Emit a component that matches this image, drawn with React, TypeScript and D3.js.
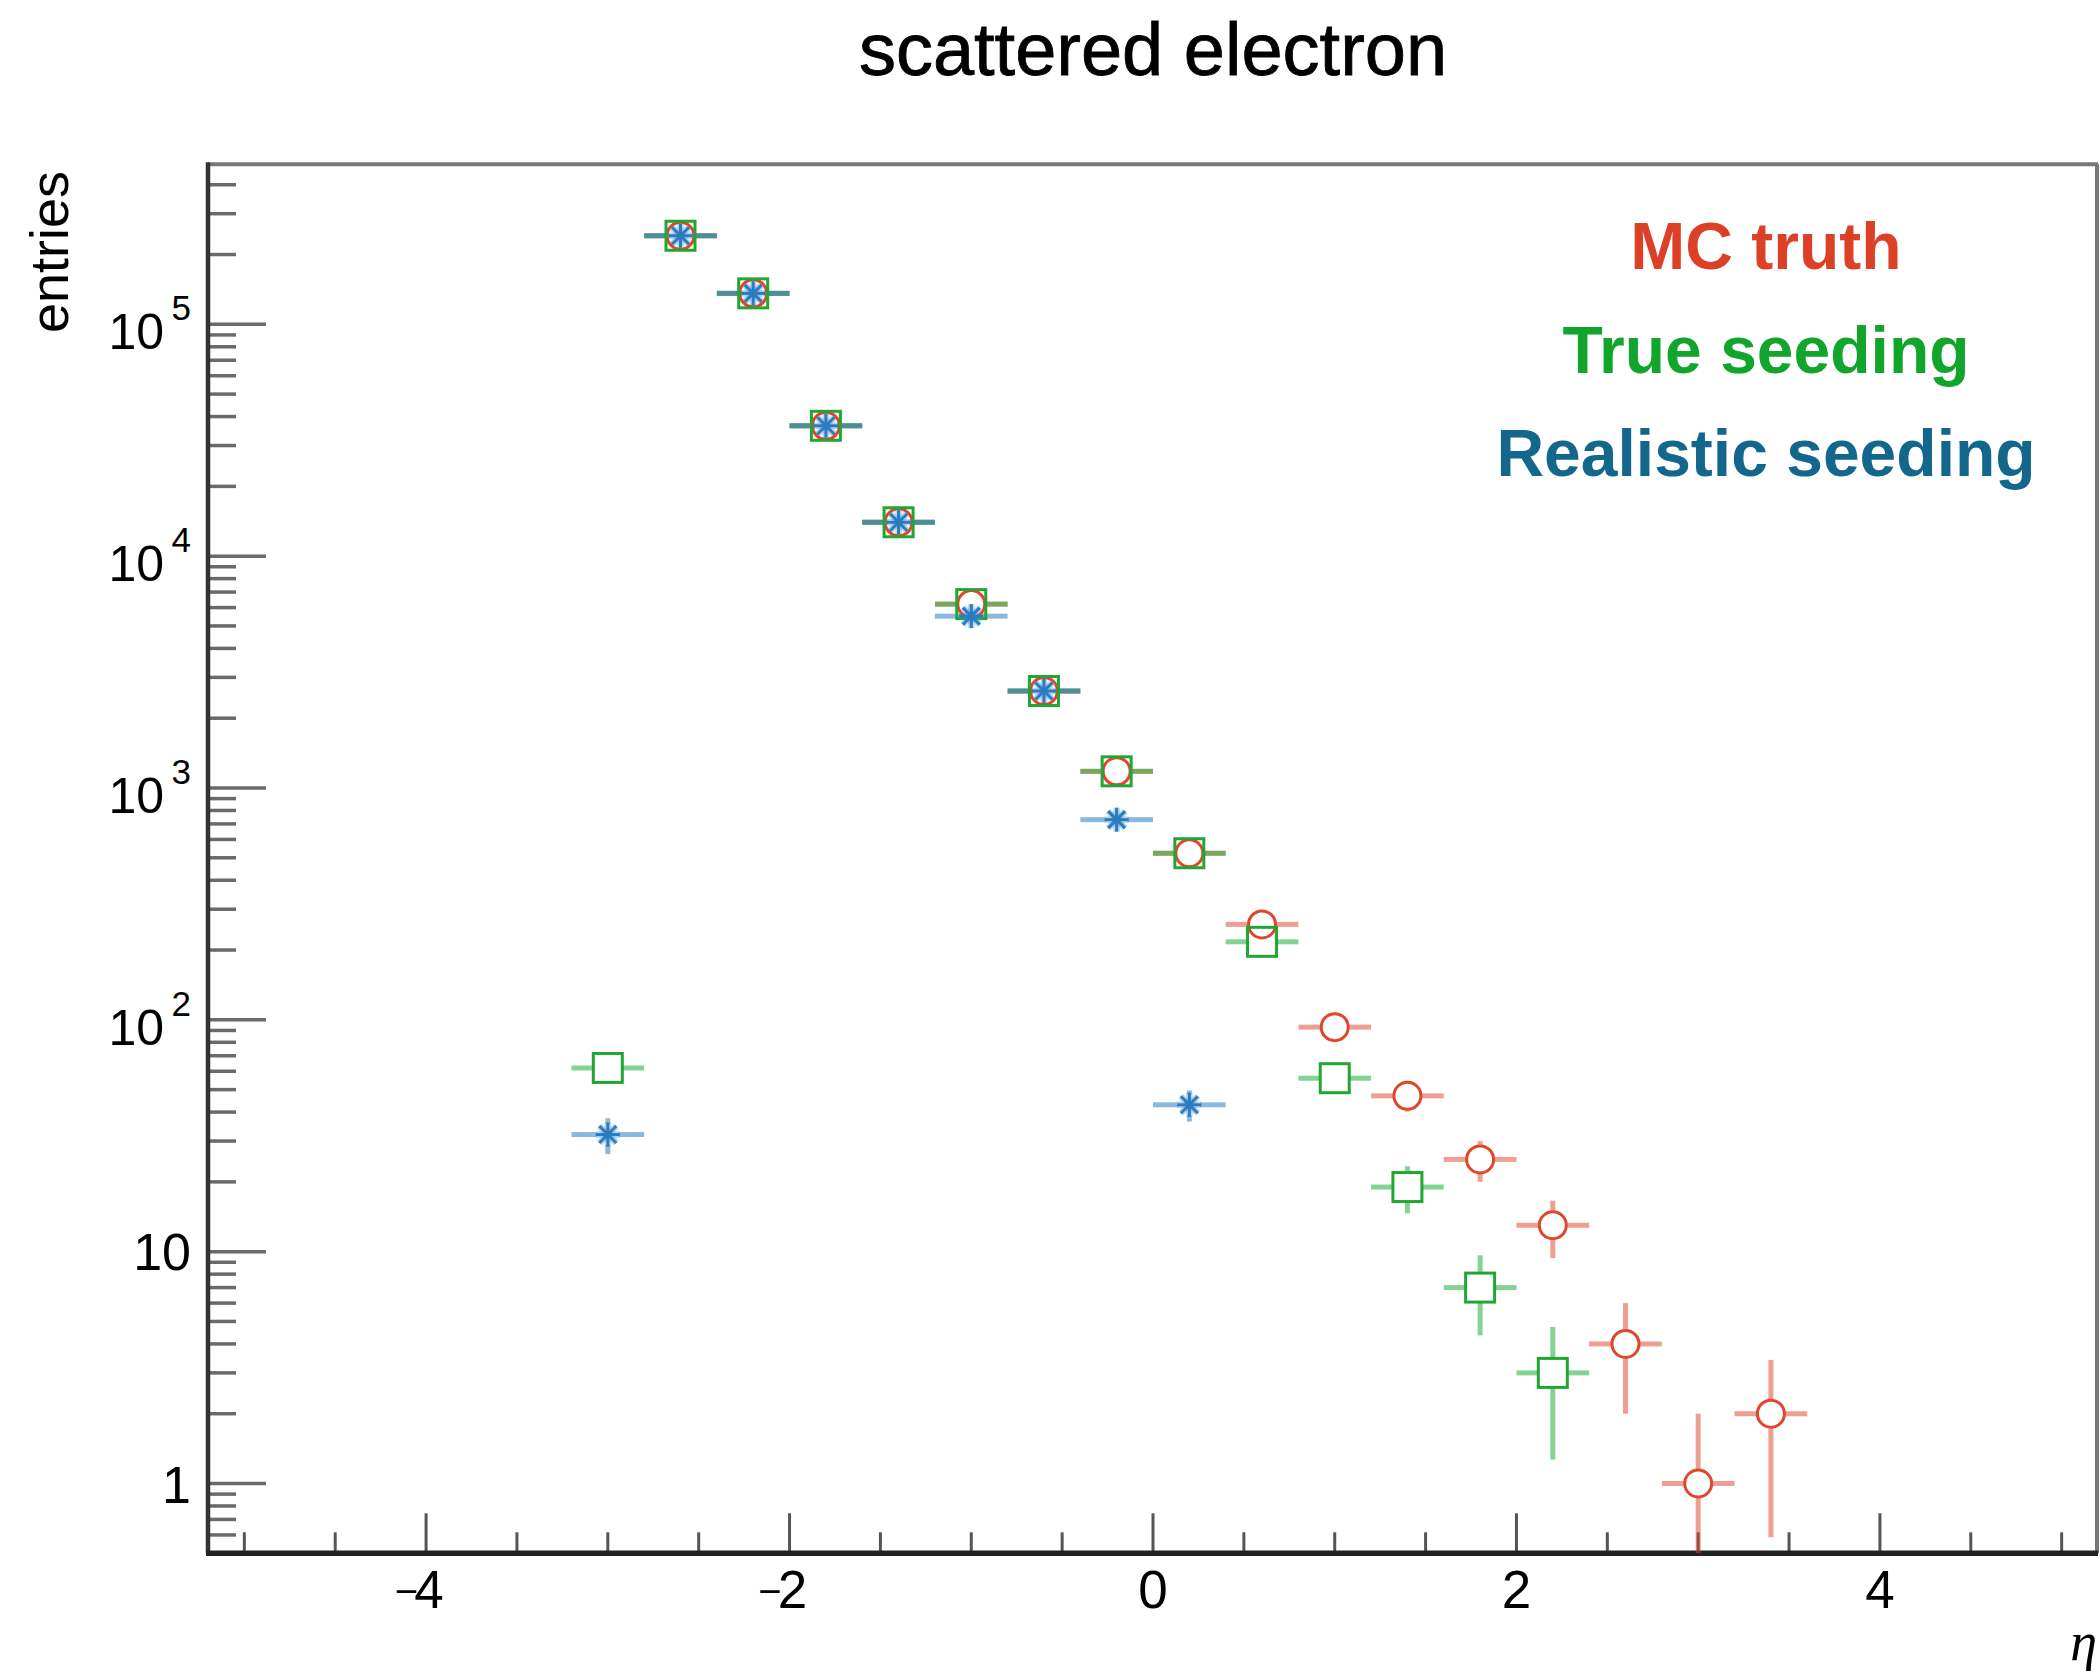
import React from "react";
import * as d3 from "d3";

// Bin centres in eta (bin width 0.4)
const etaBins = [-3.0, -2.6, -2.2, -1.8, -1.4, -1.0, -0.6, -0.2, 0.2, 0.6, 1.0, 1.4, 1.8, 2.2, 2.6, 3.0, 3.4];
const binHalfWidth = 0.2;

// Entries per bin (0 = empty bin)
const mcTruth = [0, 241000, 136000, 36500, 14000, 6210, 2620, 1180, 523, 258, 93, 47, 25, 13, 4, 1, 2];
const trueSeeding = [62, 241000, 136000, 36500, 14000, 6210, 2620, 1180, 523, 217, 56, 19, 7, 3, 0, 0, 0];
const realisticSeeding = [32, 241000, 136000, 36500, 14000, 5510, 2620, 730, 43, 0, 0, 0, 0, 0, 0, 0, 0];

const xMajorTicks = [-4, -2, 0, 2, 4];
const xTickLabels = ["\u22124", "\u22122", "0", "2", "4"];
const yDecades = [0, 1, 2, 3, 4, 5];

const legendLabels = ["MC truth", "True seeding", "Realistic seeding"];
const legendColors = ["#dc4128", "#12a52c", "#13668c"];

const W = 2100;
const H = 1671;
const FONT = "'Liberation Sans', Arial, Helvetica, sans-serif";

const x = d3.scaleLinear().domain([-5.2, 5.2]).range([208, 2098]);
const y = d3.scaleLog().domain([0.5, 4.9e5]).range([1553.3, 164.3]);

const [x0, x1] = x.range();
const [yBottom, yTop] = y.range();

type Series = {
  values: number[];
  bar: string;
  marker: string;
  kind: "circle" | "square" | "star";
  gap: number;
};

const series: Series[] = [
  { values: mcTruth, bar: "rgba(225,70,45,0.52)", marker: "#e0462c", kind: "circle", gap: 14.5 },
  { values: trueSeeding, bar: "rgba(20,170,50,0.52)", marker: "#22a632", kind: "square", gap: 14.5 },
  { values: realisticSeeding, bar: "rgba(30,120,195,0.52)", marker: "#2a7bbf", kind: "star", gap: 11 },
];

function ErrorBars({ s }: { s: Series }) {
  const segs: JSX.Element[] = [];
  s.values.forEach((v, i) => {
    if (v <= 0) return;
    const c = etaBins[i];
    const cx = x(c);
    const cy = y(v);
    const err = Math.sqrt(v);
    const xl = x(c - binHalfWidth);
    const xr = x(c + binHalfWidth);
    segs.push(<line key={`hl${i}`} x1={xl} x2={cx - s.gap} y1={cy} y2={cy} />);
    segs.push(<line key={`hr${i}`} x1={cx + s.gap} x2={xr} y1={cy} y2={cy} />);
    const yUp = y(v + err);
    const yDn = v - err > y.domain()[0] ? y(v - err) : yBottom;
    if (cy - yUp > s.gap) segs.push(<line key={`vu${i}`} x1={cx} x2={cx} y1={yUp} y2={cy - s.gap} />);
    if (yDn - cy > s.gap) segs.push(<line key={`vd${i}`} x1={cx} x2={cx} y1={cy + s.gap} y2={Math.min(yDn, yBottom)} />);
  });
  return (
    <g stroke={s.bar} strokeWidth={5} clipPath="url(#plotClip)">
      {segs}
    </g>
  );
}

function Asterisk({ cx, cy, color }: { cx: number; cy: number; color: string }) {
  const a = 12;
  const d = 8.5;
  const arms = (
    <>
      <line x1={cx - a} x2={cx + a} y1={cy} y2={cy} />
      <line x1={cx} x2={cx} y1={cy - a} y2={cy + a} />
      <line x1={cx - d} x2={cx + d} y1={cy - d} y2={cy + d} />
      <line x1={cx - d} x2={cx + d} y1={cy + d} y2={cy - d} />
    </>
  );
  return (
    <g>
      <g stroke="rgba(60,140,210,0.35)" strokeWidth={6.5}>{arms}</g>
      <g stroke={color} strokeWidth={3}>{arms}</g>
    </g>
  );
}

function Markers({ s }: { s: Series }) {
  return (
    <g stroke={s.marker} fill="none" strokeWidth={3}>
      {s.values.map((v, i) => {
        if (v <= 0) return null;
        const cx = x(etaBins[i]);
        const cy = y(v);
        if (s.kind === "circle") return <circle key={i} cx={cx} cy={cy} r={13.5} />;
        if (s.kind === "square") return <rect key={i} x={cx - 14.5} y={cy - 14.5} width={29} height={29} />;
        return <Asterisk key={i} cx={cx} cy={cy} color={s.marker} />;
      })}
    </g>
  );
}

function XTickLabel({ t, label }: { t: number; label: string }) {
  const neg = label.startsWith("\u2212");
  const digits = neg ? label.slice(1) : label;
  const tx = x(t);
  return (
    <g>
      <text x={neg ? tx + 3 : tx} y={1608} textAnchor="middle" fontSize={53}>{digits}</text>
      {neg && (
        <text x={tx - 8} y={1605} textAnchor="end" fontSize={40}>{"\u2212"}</text>
      )}
    </g>
  );
}

export default function App() {
  const xMinor = d3.range(-5, 5.01, 0.5).filter((t) => !xMajorTicks.includes(t));
  const yMinor: number[] = [];
  for (let k = -1; k <= 5; k++) {
    for (let m = 2; m <= 9; m++) {
      const v = m * Math.pow(10, k);
      if (v > y.domain()[0] && v < y.domain()[1]) yMinor.push(v);
    }
  }

  return (
    <svg
      width={W}
      height={H}
      viewBox={`0 0 ${W} ${H}`}
      style={{ position: "absolute", left: 0, top: 0, background: "#fff" }}
      fontFamily={FONT}
    >
      <defs>
        <clipPath id="plotClip">
          <rect x={x0} y={yTop} width={x1 - x0} height={yBottom - yTop} />
        </clipPath>
      </defs>
      <rect width={W} height={H} fill="#fff" />

      {/* title */}
      <text x={(x0 + x1) / 2} y={75} textAnchor="middle" fontSize={74} fill="#000" stroke="#000" strokeWidth={0.8}>
        scattered electron
      </text>

      {/* frame */}
      <line x1={x0} x2={x1} y1={yTop} y2={yTop} stroke="#777" strokeWidth={4} />
      <line x1={x1 - 1} x2={x1 - 1} y1={yTop} y2={yBottom} stroke="#777" strokeWidth={4} />

      {/* y ticks */}
      <g stroke="#6a6a6a" strokeWidth={3.5}>
        {yMinor.map((v) => (
          <line key={`ym${v}`} x1={x0} x2={x0 + 28} y1={y(v)} y2={y(v)} />
        ))}
        {yDecades.map((k) => (
          <line key={`yM${k}`} x1={x0} x2={x0 + 58} y1={y(Math.pow(10, k))} y2={y(Math.pow(10, k))} />
        ))}
      </g>

      {/* x ticks */}
      <g stroke="#555" strokeWidth={3}>
        {xMinor.map((t) => (
          <line key={`xm${t}`} x1={x(t)} x2={x(t)} y1={yBottom} y2={yBottom - 21} />
        ))}
        {xMajorTicks.map((t) => (
          <line key={`xM${t}`} x1={x(t)} x2={x(t)} y1={yBottom} y2={yBottom - 40} />
        ))}
      </g>

      {/* axes */}
      <line x1={x0} x2={x0} y1={yTop - 2} y2={yBottom} stroke="#333" strokeWidth={4.5} />
      <line x1={x0 - 2} x2={x1} y1={yBottom} y2={yBottom} stroke="#222" strokeWidth={5.5} />

      {/* y tick labels */}
      <g fill="#000" fontSize={52}>
        {yDecades.map((k) => {
          const ty = y(Math.pow(10, k));
          if (k === 0) return <text key={k} x={191} y={ty + 19} textAnchor="end">1</text>;
          if (k === 1) return <text key={k} x={191} y={ty + 18} textAnchor="end">10</text>;
          return (
            <g key={k}>
              <text x={164} y={ty + 25} textAnchor="end" fontSize={50}>10</text>
              <text x={191} y={ty - 4} textAnchor="end" fontSize={35}>{k}</text>
            </g>
          );
        })}
      </g>

      {/* x tick labels */}
      <g fill="#000">
        {xMajorTicks.map((t, i) => (
          <XTickLabel key={t} t={t} label={xTickLabels[i]} />
        ))}
      </g>

      {/* axis titles */}
      <text transform="translate(68,171) rotate(-90)" textAnchor="end" fontSize={54} fill="#000">
        entries
      </text>
      <text x={2097} y={1660} textAnchor="end" fontSize={54} fontStyle="italic" fontFamily="'Liberation Serif', 'DejaVu Serif', serif" fill="#000">
        η
      </text>

      {/* data */}
      {series.map((s, i) => (
        <ErrorBars key={i} s={s} />
      ))}
      {series.map((s, i) => (
        <Markers key={i} s={s} />
      ))}

      {/* legend */}
      <g fontSize={66} fontWeight="bold" textAnchor="middle">
        {legendLabels.map((l, i) => (
          <text key={l} x={1766} y={269 + i * 103.5} fill={legendColors[i]}>
            {l}
          </text>
        ))}
      </g>
    </svg>
  );
}
